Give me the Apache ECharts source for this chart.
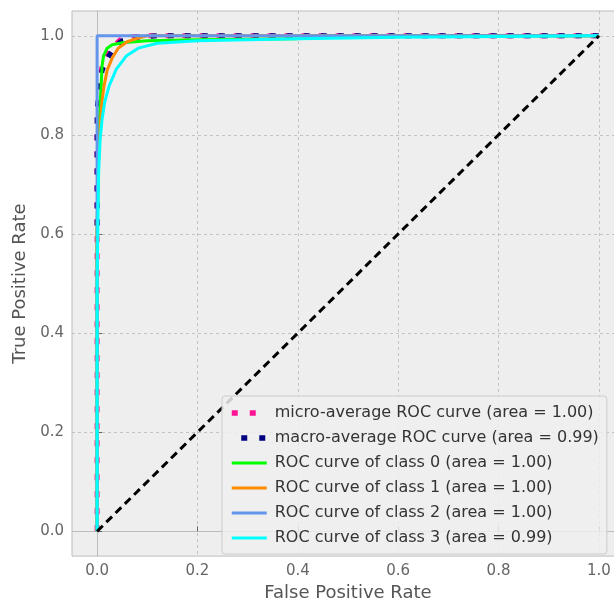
<!DOCTYPE html>
<html>
<head>
<meta charset="utf-8">
<script src="https://cdn.jsdelivr.net/npm/echarts@6/dist/echarts.min.js"></script>
<style>html,body{margin:0;padding:0;background:#fff;overflow:hidden;}#c{width:630px;height:607px;}</style>
</head>
<body>
<div id="c"></div>
<script>
// ---- data ----
var tickValues = [0, 0.2, 0.4, 0.6, 0.8, 1.0];
var legendNames = [
  'micro-average ROC curve (area = 1.00)',
  'macro-average ROC curve (area = 0.99)',
  'ROC curve of class 0 (area = 1.00)',
  'ROC curve of class 1 (area = 1.00)',
  'ROC curve of class 2 (area = 1.00)',
  'ROC curve of class 3 (area = 0.99)'
];
var microAvg = [[0,0],[0,0.8],[0.004,0.9],[0.01,0.94],[0.02,0.965],[0.032,0.978],[0.046,0.992],[0.07,0.998],[0.1,1],[1,1]];
var macroAvg = [[0,0.6],[0,0.85],[0.005,0.9],[0.01,0.93],[0.019,0.952],[0.036,0.979],[0.05,0.99],[0.08,0.997],[0.12,1],[1,1]];
var class0 = [[0,0],[0,0.6],[0.003,0.8],[0.006,0.86],[0.008,0.9],[0.01,0.94],[0.013,0.96],[0.02,0.975],[0.03,0.982],[0.05,0.986],[0.1,0.99],[0.2,0.992],[0.4,0.994],[0.4,1],[1,1]];
var class1 = [[0,0],[0,0.6],[0.003,0.75],[0.007,0.83],[0.01,0.87],[0.014,0.9],[0.02,0.93],[0.03,0.955],[0.042,0.975],[0.06,0.988],[0.08,0.995],[0.1,1],[1,1]];
var class2 = [[0,0],[0,1],[1,1]];
var class3 = [[0,0],[0,0.5],[0.003,0.72],[0.006,0.79],[0.01,0.832],[0.015,0.866],[0.024,0.899],[0.038,0.932],[0.058,0.959],[0.082,0.975],[0.12,0.985],[0.2,0.99],[0.4,0.994],[0.6,0.997],[1,1]];
var chance = [[0,0],[1,1]];

var font = 'DejaVu Sans';
function lineSeries(name, data, color, width, dash, offset) {
  return {
    name: name, type: 'line', data: data, symbol: 'none', silent: true, animation: false,
    lineStyle: {color: color, width: width, type: dash || 'solid', dashOffset: offset || 0, cap: 'butt'},
    itemStyle: {color: color}
  };
}
var legendData = legendNames.map(function(n, i) {
  return i < 2 ? {name: n, lineStyle: {width: 5.5, type: [6, 12]}} : {name: n, lineStyle: {width: 3, type: 'solid'}};
});
var chart = echarts.init(document.getElementById('c'));
chart.setOption({
  animation: false,
  backgroundColor: '#ffffff',
  grid: {left: 72, top: 11, right: 6, bottom: 46, show: true, backgroundColor: '#eeeeee', borderColor: '#bcbcbc', borderWidth: 1},
  legend: {
    orient: 'vertical', left: 222, top: 396,
    padding: [9, 8, 8, 7], itemGap: 9, itemWidth: 35, itemHeight: 14,
    backgroundColor: 'rgba(238,238,238,0.85)', borderColor: '#cccccc', borderWidth: 1, borderRadius: 3,
    data: legendData,
    itemStyle: {opacity: 0},
    textStyle: {fontFamily: font, fontSize: 16, color: '#333333', lineHeight: 14, padding: [0,0,0,3]}
  },
  xAxis: {
    type: 'value', min: -0.05, max: 1.05,
    name: 'False Positive Rate', nameLocation: 'middle', nameGap: 27,
    nameTextStyle: {fontFamily: font, fontSize: 18, color: '#555555'},
    axisLine: {show: true, lineStyle: {color: '#bcbcbc', width: 1}},
    axisTick: {show: true, inside: true, length: 5, customValues: tickValues, lineStyle: {color: '#666666'}},
    axisLabel: {customValues: tickValues, fontFamily: font, fontSize: 15, color: '#666666', margin: 8, formatter: function(v){return v.toFixed(1);}},
    splitLine: {show: true, lineStyle: {color: '#b8b8b8', type: [3, 3], width: 0.8}}
  },
  yAxis: {
    type: 'value', min: -0.05, max: 1.05,
    name: 'True Positive Rate', nameLocation: 'middle', nameGap: 39,
    nameTextStyle: {fontFamily: font, fontSize: 18, color: '#555555'},
    axisLine: {show: true, lineStyle: {color: '#bcbcbc', width: 1}},
    axisTick: {show: true, inside: true, length: 5, customValues: tickValues, lineStyle: {color: '#666666'}},
    axisLabel: {customValues: tickValues, fontFamily: font, fontSize: 15, color: '#666666', margin: 8, formatter: function(v){return v.toFixed(1);}},
    splitLine: {show: true, lineStyle: {color: '#b8b8b8', type: [3, 3], width: 0.8}}
  },
  series: [
    lineSeries(legendNames[0], microAvg, '#ff1493', 5, [6, 11], 0),
    lineSeries(legendNames[1], macroAvg, '#000080', 5, [6, 11], 8.5),
    lineSeries(legendNames[2], class0, '#00ff00', 3),
    lineSeries(legendNames[3], class1, '#ff8c00', 3),
    lineSeries(legendNames[4], class2, '#6495ed', 3),
    lineSeries(legendNames[5], class3, '#00ffff', 3),
    {type: 'line', data: chance, symbol: 'none', silent: true, animation: false,
     lineStyle: {color: '#000000', width: 3, type: [8, 5]}}
  ]
});
</script>
</body>
</html>
